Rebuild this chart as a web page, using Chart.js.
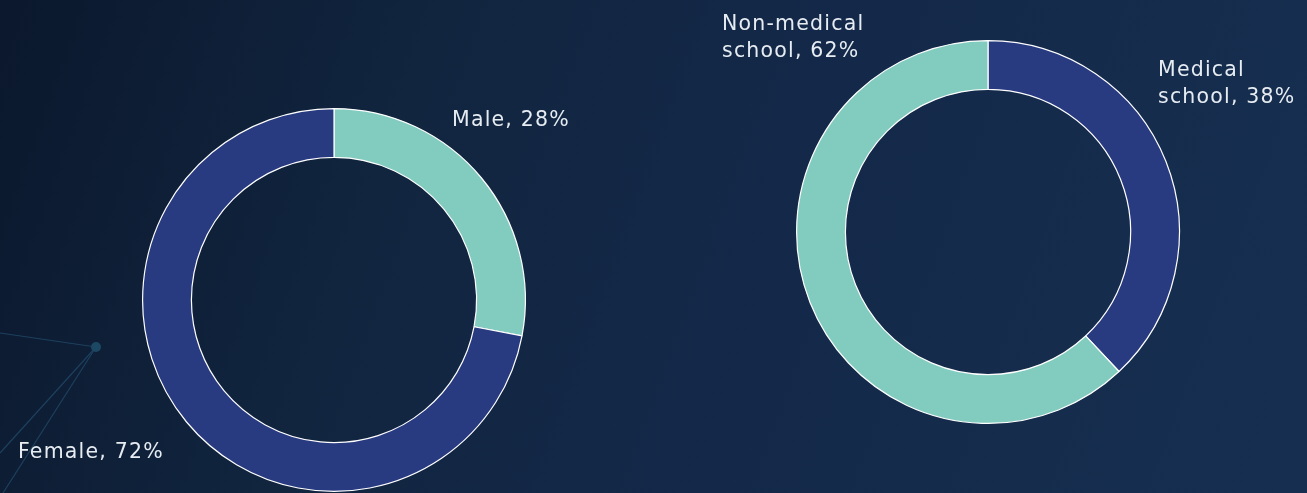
<!DOCTYPE html>
<html lang="en">
<head>
  <meta charset="UTF-8" />
  <title>Respondent profile</title>
  <script src="https://cdn.jsdelivr.net/npm/chart.js"></script>
  <style>
    body {
      margin: 0;
      width: 1307px;
      height: 493px;
      overflow: hidden;
      background: linear-gradient(110deg, #0b182d 0%, #11253f 30%, #14294a 60%, #162f50 100%);
      position: relative;
    }
    .deco {
      position: absolute;
      left: 0;
      top: 0;
    }
    .box {
      position: absolute;
      top: 0;
      width: 654px;
      height: 493px;
    }
  </style>
</head>
<body>
<svg class="deco" width="1307" height="493">
  <g stroke="#1d405e" stroke-width="1.2" fill="none">
    <line x1="0" y1="333" x2="96" y2="347" />
    <line x1="96" y1="347" x2="0" y2="453" />
    <line x1="96" y1="347" x2="3" y2="493" />
  </g>
  <circle cx="96" cy="347" r="5" fill="#1d4863" />
</svg>

<div class="box" style="left:0"><canvas id="genderChart"></canvas></div>
<div class="box" style="left:653px"><canvas id="schoolChart"></canvas></div>

<script>
const genderLabels = ['Male', 'Female'];
const genderValues = [28, 72];

const schoolLabels = ['Medical school', 'Non-medical school'];
const schoolValues = [38, 62];

const TEAL = '#82cbbf';
const NAVY = '#283a80';

// text for each slice, drawn next to the ring (dx/dy from the centre, lines stacked)
const sliceText = {
  id: 'sliceText',
  afterDraw(chart, args, opts) {
    const arc = chart.getDatasetMeta(0).data[0];
    const cx = arc.x, cy = arc.y;
    const ctx = chart.ctx;
    ctx.save();
    ctx.fillStyle = '#e6ecf2';
    ctx.font = '20.5px "DejaVu Sans", sans-serif';
    ctx.letterSpacing = '1.2px';
    ctx.textBaseline = 'alphabetic';
    ctx.textAlign = 'left';
    opts.items.forEach(it => {
      const lab = chart.data.labels[it.index];
      const val = chart.data.datasets[0].data[it.index];
      const words = lab.split(' ');
      const lines = it.split ? [words[0], words.slice(1).join(' ') + ', ' + val + '%']
                             : [lab + ', ' + val + '%'];
      lines.forEach((ln, i) => ctx.fillText(ln, cx + it.dx, cy + it.dy + i * 27));
    });
    ctx.restore();
  }
};

function makeDonut(id, labels, values, colors, padding, items) {
  new Chart(document.getElementById(id), {
    type: 'doughnut',
    data: {
      labels: labels,
      datasets: [{
        data: values,
        backgroundColor: colors,
        borderColor: '#ffffff',
        borderWidth: 1.2
      }]
    },
    options: {
      responsive: true,
      maintainAspectRatio: false,
      animation: false,
      cutout: '74.5%',
      layout: { padding: padding },
      plugins: {
        legend: { display: false },
        tooltip: { enabled: false },
        sliceText: { items: items }
      }
    },
    plugins: [sliceText]
  });
}

makeDonut('genderChart', genderLabels, genderValues, [TEAL, NAVY],
  { top: 108, bottom: 1, left: 142, right: 128 },
  [{ index: 0, dx: 118, dy: -174 }, { index: 1, dx: -316, dy: 158 }]);

makeDonut('schoolChart', schoolLabels, schoolValues, [NAVY, TEAL],
  { top: 40, bottom: 69, left: 143, right: 127 },
  [{ index: 0, dx: 170, dy: -156, split: true }, { index: 1, dx: -266, dy: -202, split: true }]);
</script>
</body>
</html>
